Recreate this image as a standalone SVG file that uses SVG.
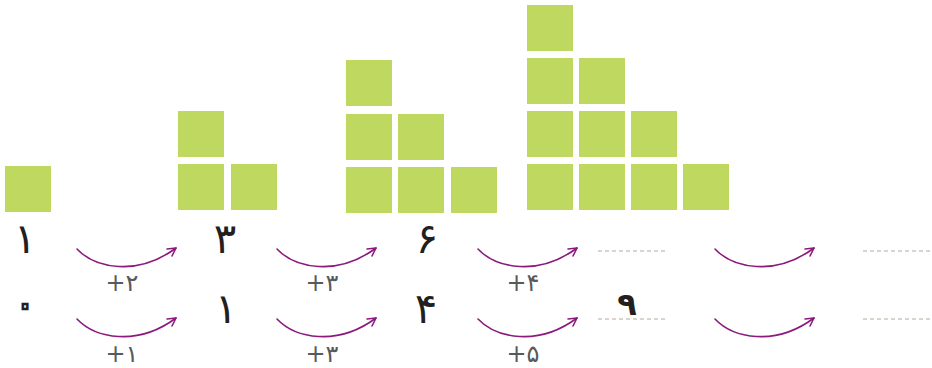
<svg xmlns="http://www.w3.org/2000/svg" xmlns:xlink="http://www.w3.org/1999/xlink" width="932" height="368" viewBox="0 0 932 368">
<style>
.sq{fill:#bed860}
.num{font-family:"DejaVu Sans",sans-serif;font-size:42px;fill:#231f20;text-anchor:middle;direction:ltr}
.lbl{font-family:"DejaVu Sans",sans-serif;font-size:24px;fill:#58595b;text-anchor:middle;direction:ltr}
.arc{fill:none;stroke:#8b1a7c;stroke-width:1.6;stroke-linecap:round;stroke-linejoin:round}
.dash{stroke:#b3aa9c;stroke-width:1.2;stroke-dasharray:4 3}
</style>
<defs>
<g id="arrow"><path class="arc" d="M0,0 C18,19 60,28 99,-1"/><path class="arc" d="M90,0 L99,-1 L95,7"/></g>
</defs>
<g id="blocks1"><rect class="sq" x="5" y="166" width="46" height="46"/></g>
<g id="blocks3">
<rect class="sq" x="178" y="111" width="46" height="46"/>
<rect class="sq" x="178" y="164" width="46" height="46"/>
<rect class="sq" x="231" y="164" width="46" height="46"/>
</g>
<g id="blocks6">
<rect class="sq" x="346" y="60" width="46" height="46"/>
<rect class="sq" x="346" y="114" width="46" height="46"/>
<rect class="sq" x="398" y="114" width="46" height="46"/>
<rect class="sq" x="346" y="167" width="46" height="46"/>
<rect class="sq" x="398" y="167" width="46" height="46"/>
<rect class="sq" x="451" y="167" width="46" height="46"/>
</g>
<g id="blocks10">
<rect class="sq" x="527" y="5" width="46" height="46"/>
<rect class="sq" x="527" y="58" width="46" height="46"/>
<rect class="sq" x="579" y="58" width="46" height="46"/>
<rect class="sq" x="527" y="111" width="46" height="46"/>
<rect class="sq" x="579" y="111" width="46" height="46"/>
<rect class="sq" x="631" y="111" width="46" height="46"/>
<rect class="sq" x="527" y="164" width="46" height="46"/>
<rect class="sq" x="579" y="164" width="46" height="46"/>
<rect class="sq" x="631" y="164" width="46" height="46"/>
<rect class="sq" x="683" y="164" width="46" height="46"/>
</g>
<g id="row1">
<text class="num" x="25" y="253">۱</text>
<text class="num" x="225" y="253">۳</text>
<text class="num" x="427" y="253">۶</text>
<line class="dash" x1="598" y1="251" x2="666" y2="251"/>
<line class="dash" x1="863" y1="251" x2="932" y2="251"/>
</g>
<g id="row2">
<text class="num" x="25" y="318" style="fill:#fff;stroke:#231f20;stroke-width:2.5">۰</text>
<text class="num" x="226" y="323">۱</text>
<text class="num" x="426" y="323">۴</text>
<text class="num" x="627" y="315" style="font-size:32px;font-weight:bold">۹</text>
<line class="dash" x1="598" y1="319" x2="666" y2="319"/>
<line class="dash" x1="863" y1="319" x2="932" y2="319"/>
</g>
<g id="connectors">
<use xlink:href="#arrow" transform="translate(77,249)"/>
<use xlink:href="#arrow" transform="translate(277,249)"/>
<use xlink:href="#arrow" transform="translate(478,249)"/>
<use xlink:href="#arrow" transform="translate(715,249)"/>
<use xlink:href="#arrow" transform="translate(77,319)"/>
<use xlink:href="#arrow" transform="translate(277,319)"/>
<use xlink:href="#arrow" transform="translate(478,319)"/>
<use xlink:href="#arrow" transform="translate(715,319)"/>
</g>
<g id="labels">
<text class="lbl" x="122" y="291">+۲</text>
<text class="lbl" x="322" y="291">+۳</text>
<text class="lbl" x="523" y="291">+۴</text>
<text class="lbl" x="122" y="362">+۱</text>
<text class="lbl" x="322" y="362">+۳</text>
<text class="lbl" x="523" y="362">+۵</text>
</g>
</svg>
